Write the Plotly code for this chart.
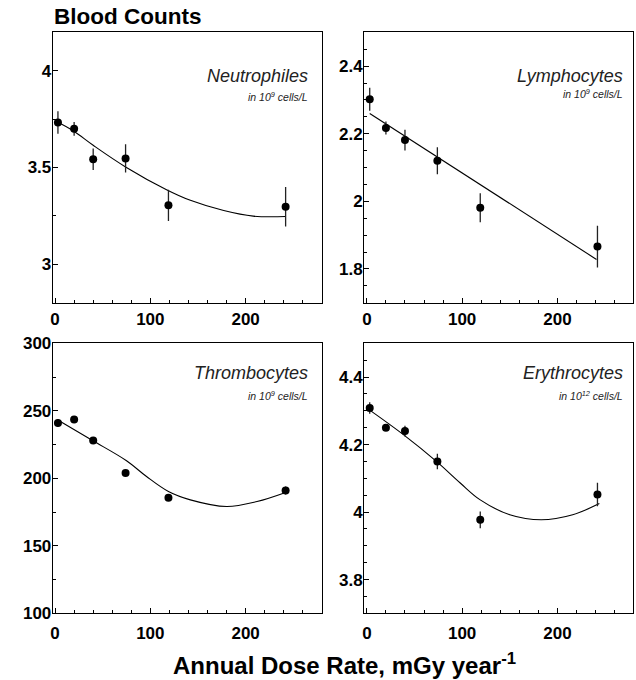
import plotly.graph_objects as go

# ---- data ----
dose = [3, 20, 40, 74, 119, 242]

neut = [3.733, 3.700, 3.543, 3.547, 3.304, 3.297]
neut_err = [0.058, 0.035, 0.056, 0.073, 0.081, 0.102]
neut_fit_x = [0, 19, 40, 74, 117, 142, 177, 208, 242]
neut_fit_y = [3.742, 3.690, 3.615, 3.503, 3.385, 3.330, 3.277, 3.248, 3.246]

lymph = [2.302, 2.217, 2.181, 2.120, 1.981, 1.866]
lymph_err = [0.034, 0.019, 0.031, 0.040, 0.043, 0.062]
lymph_fit_x = [3, 241]
lymph_fit_y = [2.260, 1.828]

thromb = [241.0, 243.5, 228.0, 204.0, 185.5, 191.0]
thromb_err = [3, 2, 2.5, 2, 2, 3]
thromb_fit_x = [2, 38, 75, 96, 119, 142, 180, 212, 242]
thromb_fit_y = [243.5, 228.5, 213.0, 201.3, 190.2, 184.0, 179.1, 182.8, 189.5]

eryth = [4.308, 4.250, 4.240, 4.150, 3.977, 4.052]
eryth_err = [0.017, 0.010, 0.016, 0.023, 0.025, 0.035]
eryth_fit_x = [3, 38, 73, 98, 119, 150, 183, 216, 244]
eryth_fit_y = [4.302, 4.230, 4.150, 4.086, 4.036, 3.992, 3.977, 3.992, 4.025]

x_ticks = [0, 100, 200]
panel_names = ["Neutrophiles", "Lymphocytes", "Thrombocytes", "Erythrocytes"]
panel_units = ["in 10<sup>9</sup> cells/L", "in 10<sup>9</sup> cells/L",
               "in 10<sup>9</sup> cells/L", "in 10<sup>12</sup> cells/L"]
y_ranges = [[2.8, 4.2], [1.7, 2.5], [100, 300], [3.7, 4.5]]
y_ticks = [[3, 3.5, 4], [1.8, 2, 2.2, 2.4], [100, 150, 200, 250, 300], [3.8, 4, 4.2, 4.4]]
y_ticktext = [["3", "3.5", "4"], ["1.8", "2", "2.2", "2.4"],
              ["100", "150", "200", "250", "300"], ["3.8", "4", "4.2", "4.4"]]
y_minor = [0.25, 0.05, 25, 0.05]

W, H = 636, 680
FONT = "Liberation Sans, Arial, Helvetica, sans-serif"

# panel boxes in pixels (left, right, top, bottom)
boxes = [(52.7, 322.3, 32.3, 302.7), (364.0, 633.0, 32.3, 302.7),
         (52.7, 322.3, 343.3, 613.3), (364.0, 633.0, 343.3, 613.3)]
x_ranges = [[-2.5, 280.5], [-3.0, 279.3], [-2.5, 280.5], [-3.0, 279.3]]

fig = go.Figure()

series = [(neut, neut_err, neut_fit_x, neut_fit_y),
          (lymph, lymph_err, lymph_fit_x, lymph_fit_y),
          (thromb, thromb_err, thromb_fit_x, thromb_fit_y),
          (eryth, eryth_err, eryth_fit_x, eryth_fit_y)]

layout = dict(template="none", width=W, height=H,
              margin=dict(l=0, r=0, t=0, b=0, pad=0, autoexpand=False),
              paper_bgcolor="white", plot_bgcolor="white", showlegend=False,
              font=dict(family=FONT, color="black"))

for i, (vals, errs, fx, fy) in enumerate(series):
    k = "" if i == 0 else str(i + 1)
    fig.add_trace(go.Scatter(x=fx, y=fy, mode="lines", line=dict(color="black", width=1.1,
                             shape="spline" if len(fx) > 2 else "linear"),
                             xaxis="x" + k, yaxis="y" + k, hoverinfo="skip"))
    fig.add_trace(go.Scatter(x=dose, y=vals, mode="markers",
                             marker=dict(color="black", size=8),
                             error_y=dict(type="data", array=errs, visible=True,
                                          color="#222", thickness=1.3, width=0),
                             xaxis="x" + k, yaxis="y" + k))
    l, r, t, b = boxes[i]
    layout["xaxis" + k] = dict(
        domain=[l / W, r / W], range=x_ranges[i], anchor="y" + k, automargin=False,
        tickvals=x_ticks, ticktext=[str(v) for v in x_ticks],
        ticks="inside", ticklen=5, tickwidth=1, tickcolor="black",
        minor=dict(dtick=20, tick0=0, ticks="inside", ticklen=3, tickcolor="black"),
        showline=True, linecolor="black", linewidth=1, mirror=True,
        showgrid=False, zeroline=False, ticklabelstandoff=1 if i < 2 else 4,
        tickfont=dict(size=17, family=FONT, weight="bold"))
    layout["yaxis" + k] = dict(
        domain=[1 - b / H, 1 - t / H], range=y_ranges[i], anchor="x" + k, automargin=False,
        tickvals=y_ticks[i], ticktext=y_ticktext[i],
        ticks="inside", ticklen=5, tickwidth=1, tickcolor="black",
        minor=dict(dtick=y_minor[i], tick0=0, ticks="inside", ticklen=3, tickcolor="black"),
        showline=True, linecolor="black", linewidth=1, mirror=True,
        showgrid=False, zeroline=False, ticklabelstandoff=-3,
        tickfont=dict(size=17, family=FONT, weight="bold"))

annotations = [
    dict(text="Blood Counts", xref="paper", yref="paper", x=52 / W, y=1 - 16 / H,
         xanchor="left", yanchor="middle", showarrow=False,
         font=dict(size=22.5, family=FONT, weight="bold")),
    dict(text="Annual Dose Rate, mGy year<sup>-1</sup>", xref="paper", yref="paper",
         x=344 / W, y=1 - 664 / H, xanchor="center", yanchor="middle", showarrow=False,
         font=dict(size=24, family=FONT, weight="bold")),
]
name_pos = [(310, 76, 97), (625, 76, 94), (310, 373, 395), (625, 373, 395)]
for i in range(4):
    rx, ty, sy = name_pos[i]
    annotations.append(dict(text="<i>" + panel_names[i] + "</i>", xref="paper", yref="paper",
                            x=rx / W, y=1 - ty / H, xanchor="right", yanchor="middle",
                            showarrow=False, font=dict(size=18, family=FONT, color="#222")))
    annotations.append(dict(text="<i>" + panel_units[i] + "</i>", xref="paper", yref="paper",
                            x=rx / W, y=1 - sy / H, xanchor="right", yanchor="middle",
                            showarrow=False, font=dict(size=10.5, family=FONT, color="#222")))
layout["annotations"] = annotations

fig.update_layout(**layout)
fig.write_html("out.html", config={"displayModeBar": False},
               post_script="document.body.style.margin='0px';document.body.style.overflow='hidden';")
